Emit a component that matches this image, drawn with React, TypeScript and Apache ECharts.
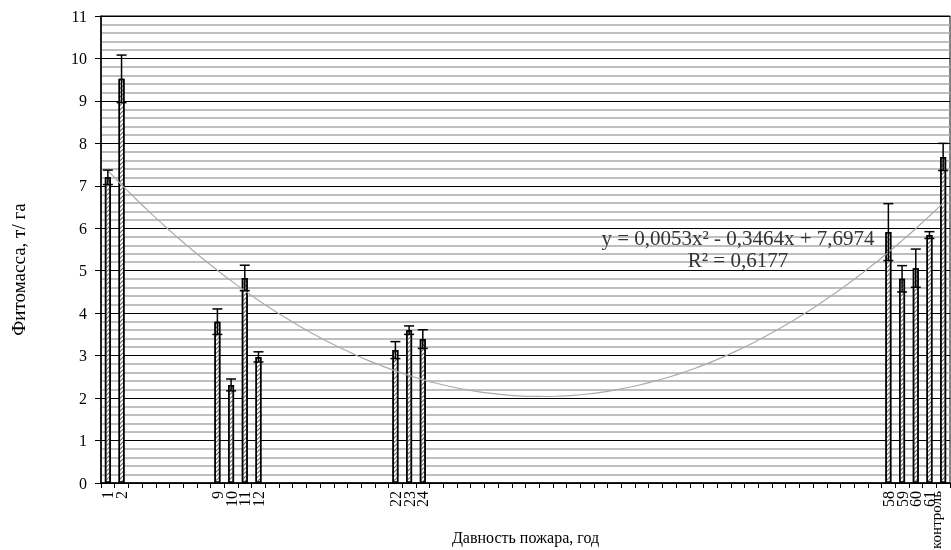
import React, { useEffect, useRef } from "react";
import * as echarts from "echarts";

// Fire age (years); the control plot is placed on the last category
const years: number[] = [1, 2, 9, 10, 11, 12, 22, 23, 24, 58, 59, 60, 61];
const yearMeans: number[] = [7.2, 9.52, 3.8, 2.31, 4.83, 2.97, 3.13, 3.6, 3.39, 5.91, 4.81, 5.06, 5.84];
const yearErrors: number[] = [0.17, 0.56, 0.3, 0.14, 0.3, 0.12, 0.2, 0.1, 0.22, 0.67, 0.31, 0.45, 0.08];
const controlLabel = "контроль";
const controlMean = 7.68;
const controlError = 0.32;
const maxYear = 61;

// Polynomial trendline coefficients (a x² + b x + c) and R²
const trendCoef: number[] = [0.0053, -0.3464, 7.6974];
const trendR2 = 0.6177;

const yTicks: number[] = [0, 1, 2, 3, 4, 5, 6, 7, 8, 9, 10, 11];

const FONT = "Liberation Serif, DejaVu Serif, serif";

export default function App() {
  const ref = useRef<HTMLDivElement>(null);
  useEffect(() => {
    if (!ref.current) return;
    const chart = echarts.init(ref.current, undefined, { renderer: "svg" });

    const categories: string[] = [];
    for (let i = 1; i <= maxYear; i++) categories.push(String(i));
    categories.push(controlLabel);

    const barData: (number | string)[] = categories.map(() => "-");
    const errData: number[][] = [];
    years.forEach((yr, k) => {
      barData[yr - 1] = yearMeans[k];
      errData.push([yr - 1, yearMeans[k], yearErrors[k]]);
    });
    barData[categories.length - 1] = controlMean;
    errData.push([categories.length - 1, controlMean, controlError]);
    const shown = new Set<string>(errData.map((d) => categories[d[0]]));

    const trendData = categories.map((_, i) => {
      const x = i + 1;
      return trendCoef[0] * x * x + trendCoef[1] * x + trendCoef[2];
    });
    const fmt = (v: number) => v.toFixed(4).replace(".", ",");
    const eqText =
      "y = " + fmt(trendCoef[0]) + "x² - " + fmt(-trendCoef[1]) + "x + " + fmt(trendCoef[2]);
    const r2Text = "R² = " + fmt(trendR2);

    chart.setOption({
      animation: false,
      grid: {
        left: 101,
        right: 1,
        top: 16,
        bottom: 67,
        containLabel: false,
        outerBoundsMode: "none",
        show: true,
        borderColor: "#000",
        borderWidth: 1,
        backgroundColor: "transparent",
      },
      xAxis: {
        type: "category",
        data: categories,
        name: "Давность пожара, год",
        nameLocation: "middle",
        nameGap: 54,
        nameMoveOverlap: false,
        nameTextStyle: { fontFamily: FONT, fontSize: 16, color: "#000", verticalAlign: "middle" },
        axisLine: { lineStyle: { color: "#000", width: 1.5 } },
        axisTick: { show: true, interval: 0, length: 5, lineStyle: { color: "#000" } },
        axisLabel: {
          interval: 0,
          hideOverlap: false,
          rotate: 90,
          margin: 8,
          fontFamily: FONT,
          fontSize: 16,
          color: "#000",
          formatter: (v: string) =>
            !shown.has(v) ? "" : v === controlLabel ? "{k|" + v + "}" : v,
          rich: { k: { fontFamily: FONT, fontSize: 15, color: "#000", padding: [0, 0, 14, 0] } },
        },
        splitLine: { show: false },
      },
      yAxis: {
        type: "value",
        min: yTicks[0],
        max: yTicks[yTicks.length - 1],
        interval: 1,
        name: "Фитомасса, т/ га",
        nameLocation: "middle",
        nameGap: 73,
        nameMoveOverlap: false,
        nameTextStyle: {
          fontFamily: FONT,
          fontSize: 19,
          color: "#000",
          padding: [0, 40, 0, 0],
        },
        axisLine: { show: true, lineStyle: { color: "#000", width: 1.5 } },
        axisTick: { show: true, length: 6, lineStyle: { color: "#000" } },
        axisLabel: { fontFamily: FONT, fontSize: 16, color: "#000", margin: 14 },
        splitLine: { show: true, lineStyle: { color: "#000", width: 1 } },
        minorTick: { show: false, splitNumber: 5 },
        minorSplitLine: { show: true, lineStyle: { color: "#aaaaaa", width: 1.5 } },
      },
      series: [
        {
          type: "bar",
          data: barData,
          barWidth: 6,
          itemStyle: {
            color: "#ffffff",
            borderColor: "#000",
            borderWidth: 1.5,
            decal: {
              symbol: "rect",
              symbolSize: 1,
              dashArrayX: [1, 0],
              dashArrayY: [1, 2],
              rotation: -Math.PI / 4,
              color: "#666",
              backgroundColor: "#fff",
            },
          },
          z: 3,
        },
        {
          type: "line",
          data: trendData,
          smooth: true,
          symbol: "none",
          lineStyle: { color: "#aaaaaa", width: 1.2 },
          z: 4,
        },
        {
          type: "custom",
          data: errData,
          z: 5,
          renderItem: (params: any, api: any) => {
            const x = api.value(0);
            const v = api.value(1);
            const e = api.value(2);
            const top = api.coord([x, v + e]);
            const bot = api.coord([x, v - e]);
            const hw = 5;
            const st = { stroke: "#000", lineWidth: 1.5 };
            return {
              type: "group",
              children: [
                { type: "line", shape: { x1: top[0], y1: top[1], x2: bot[0], y2: bot[1] }, style: st },
                { type: "line", shape: { x1: top[0] - hw, y1: top[1], x2: top[0] + hw, y2: top[1] }, style: st },
                { type: "line", shape: { x1: bot[0] - hw, y1: bot[1], x2: bot[0] + hw, y2: bot[1] }, style: st },
              ],
            };
          },
        },
      ],
      graphic: [
        {
          type: "text",
          x: 738,
          y: 249,
          z: 10,
          style: {
            text: eqText + "\n" + r2Text,
            font: "21px " + FONT,
            fill: "#333",
            align: "center",
            verticalAlign: "middle",
            lineHeight: 22,
          },
        },
      ],
    });
    return () => chart.dispose();
  }, []);
  return (
    <div
      ref={ref}
      style={{ width: 951, height: 550, position: "fixed", left: 0, top: 0 }}
    />
  );
}
